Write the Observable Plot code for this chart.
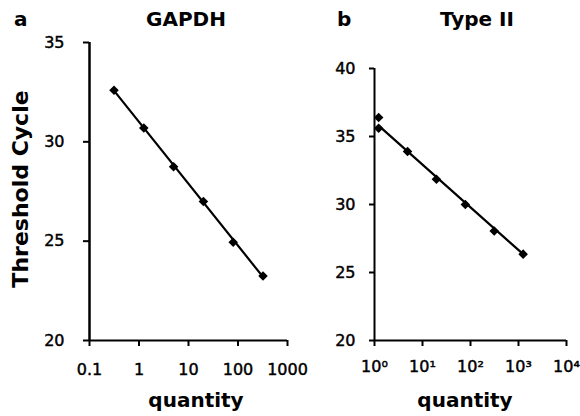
<!DOCTYPE html>
<html>
<head>
<meta charset="utf-8">
<script src="https://cdn.jsdelivr.net/npm/d3@7"></script>
<script src="https://cdn.jsdelivr.net/npm/@observablehq/plot@0.6"></script>
<style>
  html, body { margin: 0; padding: 0; background: #fff; }
  #wrap { position: relative; width: 580px; height: 416px; overflow: hidden; font-family: "DejaVu Sans", sans-serif; }
  #wrap > * { position: absolute; top: 0; }
  #wrap g[aria-label$="tick label"] text { stroke: #000; stroke-width: 0.45px; }
</style>
</head>
<body>
<div id="wrap"></div>
<script>
// ---- Panel a: GAPDH ----
const qtyA = [0.3125, 1.25, 5, 20, 80, 320];
const ctA = [32.6, 30.7, 28.75, 27.0, 24.95, 23.25];
const fitQtyA = [0.3125, 320];
const fitCtA = [32.58, 23.2];
const xTicksA = [0.1, 1, 10, 100, 1000];
const xTickLabelsA = ["0.1", "1", "10", "100", "1000"];
const yTicksA = [20, 25, 30, 35];

// ---- Panel b: Type II ----
const qtyB = [1.22, 1.22, 4.88, 19.5, 78, 312, 1250];
const ctB = [36.4, 35.6, 33.9, 31.85, 30.0, 28.05, 26.35];
const fitQtyB = [1.22, 1250];
const fitCtB = [35.8, 26.35];
const xTicksB = [1, 10, 100, 1000, 10000];
const xTickLabelsB = ["10\u2070", "10\u00B9", "10\u00B2", "10\u00B3", "10\u2074"];
const yTicksB = [20, 25, 30, 35, 40];

const ptsA = qtyA.map((q, i) => ({q, ct: ctA[i]}));
const ptsB = qtyB.map((q, i) => ({q, ct: ctB[i]}));
const fitA = fitQtyA.map((q, i) => ({q, ct: fitCtA[i]}));
const fitB = fitQtyB.map((q, i) => ({q, ct: fitCtB[i]}));

const baseStyle = {background: "transparent", overflow: "visible", fontFamily: "DejaVu Sans, sans-serif", fontSize: "16px", color: "#000"};

const plotA = Plot.plot({
  width: 300, height: 416,
  marginLeft: 89, marginRight: 13, marginTop: 42, marginBottom: 76,
  style: baseStyle,
  x: {type: "log", domain: [0.1, 1000]},
  y: {domain: [20, 35]},
  marks: [
    Plot.axisY({ticks: yTicksA, tickSize: 6, tickPadding: 19, strokeWidth: 2, label: null, fontSize: 16}),
    Plot.axisX({ticks: xTicksA, tickFormat: d => xTickLabelsA[xTicksA.indexOf(d)], tickSize: 6, tickPadding: 17, strokeWidth: 2, label: null, fontSize: 16}),
    Plot.ruleX([0.1], {strokeWidth: 2.5}),
    Plot.ruleY([20], {strokeWidth: 2}),
    Plot.line(fitA, {x: "q", y: "ct", stroke: "#000", strokeWidth: 2.2}),
    Plot.dot(ptsA, {x: "q", y: "ct", symbol: "diamond2", r: 4.3, fill: "#000", stroke: null})
  ]
});
plotA.style.left = "0px";

const plotB = Plot.plot({
  width: 290, height: 416,
  marginLeft: 84, marginRight: 14, marginTop: 68, marginBottom: 76,
  style: baseStyle,
  x: {type: "log", domain: [1, 10000]},
  y: {domain: [20, 40]},
  marks: [
    Plot.axisY({ticks: yTicksB, tickSize: 5, tickPadding: 14, strokeWidth: 2, label: null, fontSize: 16}),
    Plot.axisX({ticks: xTicksB, tickFormat: d => xTickLabelsB[xTicksB.indexOf(d)], tickSize: 6, tickPadding: 14, strokeWidth: 2, label: null, fontSize: 16}),
    Plot.ruleX([1], {strokeWidth: 2}),
    Plot.ruleY([20], {strokeWidth: 2}),
    Plot.line(fitB, {x: "q", y: "ct", stroke: "#000", strokeWidth: 2.2}),
    Plot.dot(ptsB, {x: "q", y: "ct", symbol: "diamond2", r: 4.3, fill: "#000", stroke: null})
  ]
});
plotB.style.left = "290px";

const wrap = document.getElementById("wrap");
wrap.appendChild(plotA);
wrap.appendChild(plotB);

// text overlay: panel letters, titles, axis labels
const svg = d3.create("svg").attr("width", 580).attr("height", 416)
  .style("left", "0px").style("overflow", "visible")
  .attr("font-family", "DejaVu Sans, sans-serif").attr("font-weight", "bold").attr("fill", "#000");
const texts = [
  {t: "a", x: 14, y: 26, size: 20, anchor: "start"},
  {t: "GAPDH", x: 186, y: 26, size: 20, anchor: "middle"},
  {t: "b", x: 337, y: 26, size: 20, anchor: "start"},
  {t: "Type II", x: 477, y: 26, size: 20, anchor: "middle"},
  {t: "quantity", x: 196, y: 407, size: 20, anchor: "middle"},
  {t: "quantity", x: 465, y: 407, size: 20, anchor: "middle"}
];
for (const d of texts) {
  svg.append("text").attr("x", d.x).attr("y", d.y).attr("font-size", d.size)
    .attr("text-anchor", d.anchor).text(d.t);
}
svg.append("text").attr("transform", "translate(28,189) rotate(-90)")
  .attr("font-size", 22).attr("text-anchor", "middle").text("Threshold Cycle");
wrap.appendChild(svg.node());
</script>
</body>
</html>
